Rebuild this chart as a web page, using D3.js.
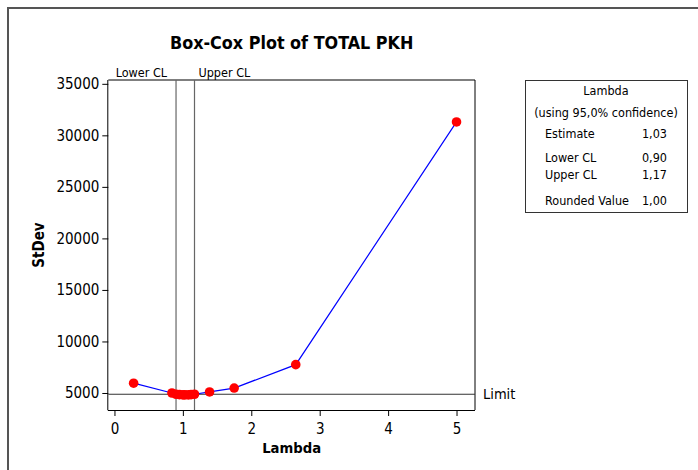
<!DOCTYPE html>
<html><head><meta charset="utf-8">
<script src="https://cdn.jsdelivr.net/npm/d3@7"></script>
<style>body{margin:0;background:#fff} text{font-family:'DejaVu Sans Condensed','DejaVu Sans',sans-serif;fill:#000}</style>
</head><body>
<script>
// ---- data ----
const lambdas = [0.28, 0.84, 0.90, 0.95, 1.00, 1.03, 1.08, 1.12, 1.17, 1.39, 1.75, 2.65, 5.00];
const stdevs  = [5950, 5000, 4880, 4840, 4820, 4815, 4820, 4845, 4880, 5100, 5480, 7750, 31300];
const limitValue = 4880;
const lowerCL = 0.90, upperCL = 1.17;
const xTicks = [0, 1, 2, 3, 4, 5];
const yTicks = [5000, 10000, 15000, 20000, 25000, 30000, 35000];
const legendRows = [["Estimate", "1,03"], ["Lower CL", "0,90"], ["Upper CL", "1,17"], ["Rounded Value", "1,00"]];
const titleText = "Box-Cox Plot of TOTAL PKH";

// ---- layout ----
const W = 698, H = 470;
const L = 108.3, R = 475, T = 80, B = 410;
const svg = d3.select("body").append("svg").attr("width", W).attr("height", H);

// outer frame
svg.append("path").attr("d", `M8,${H} V8 H${W}`).attr("fill", "none").attr("stroke", "#555").attr("stroke-width", 2);

const x = d3.scaleLinear().domain([-0.09, 5.27]).range([L, R]);
const y = d3.scaleLinear().domain([3350, 35370]).range([B, T]);

// title
svg.append("text").attr("x", (L + R) / 2).attr("y", 48.5).attr("text-anchor", "middle")
  .style("font-weight", "bold").style("font-size", "17.8px").text(titleText);

// plot frame: top gray, right black
svg.append("line").attr("x1", L).attr("x2", R).attr("y1", T).attr("y2", T).attr("stroke", "#555").attr("stroke-width", 1.5);
svg.append("line").attr("x1", R).attr("x2", R).attr("y1", T).attr("y2", B).attr("stroke", "#000");

// axes
const xAxis = svg.append("g").attr("transform", `translate(0,${B})`)
  .call(d3.axisBottom(x).tickValues(xTicks).tickSize(6).tickPadding(7).tickSizeOuter(0).tickFormat(d3.format("d")));
const yAxis = svg.append("g").attr("transform", `translate(${L},0)`)
  .call(d3.axisLeft(y).tickValues(yTicks).tickSize(6).tickPadding(3).tickSizeOuter(0).tickFormat(d3.format("d")));
[xAxis, yAxis].forEach(g => {
  g.selectAll("text").style("font-size", "15px").style("font-family", "'DejaVu Sans Condensed','DejaVu Sans',sans-serif").attr("fill", "#000");
  g.selectAll("line").attr("stroke", "#000");
  g.select(".domain").attr("stroke", "#000");
});
// extend domains to full frame
xAxis.select(".domain").attr("d", `M${L - 0.5},0.5H${R}`);
yAxis.select(".domain").attr("d", `M-0.5,${B}V${T}`);

// axis labels
svg.append("text").attr("x", (L + R) / 2).attr("y", 453).attr("text-anchor", "middle")
  .style("font-weight", "bold").style("font-size", "14.7px").text("Lambda");
svg.append("text").attr("transform", `translate(44,${(T + B) / 2}) rotate(-90)`).attr("text-anchor", "middle")
  .style("font-weight", "bold").style("font-size", "15px").text("StDev");

// CL lines
[lowerCL, upperCL].forEach(v => {
  svg.append("line").attr("x1", x(v)).attr("x2", x(v)).attr("y1", T).attr("y2", B).attr("stroke", "#666").attr("stroke-width", 1.2);
});
svg.append("text").attr("x", x(lowerCL) - 9).attr("y", 76.5).attr("text-anchor", "end").style("font-size", "12.5px").text("Lower CL");
svg.append("text").attr("x", x(upperCL) + 4).attr("y", 76.5).attr("text-anchor", "start").style("font-size", "12.5px").text("Upper CL");

// limit line
svg.append("line").attr("x1", L).attr("x2", R).attr("y1", y(limitValue)).attr("y2", y(limitValue)).attr("stroke", "#333").attr("stroke-width", 1.2);
svg.append("text").attr("x", 483).attr("y", y(limitValue) + 4.5).style("font-size", "14.5px").text("Limit");

// curve
const pts = lambdas.map((l, i) => [l, stdevs[i]]);
svg.append("path").datum(pts)
  .attr("d", d3.line().x(d => x(d[0])).y(d => y(d[1])))
  .attr("fill", "none").attr("stroke", "#0000ff").attr("stroke-width", 1.2);
svg.selectAll("circle.pt").data(pts).join("circle").attr("class", "pt")
  .attr("cx", d => x(d[0])).attr("cy", d => y(d[1])).attr("r", 4.8).attr("fill", "#ff0000");

// legend box
const lx = 525, ly = 80, lw = 162, lh = 132;
svg.append("rect").attr("x", lx + 0.5).attr("y", ly + 0.5).attr("width", lw).attr("height", lh)
  .attr("fill", "#fff").attr("stroke", "#333");
const lcx = lx + lw / 2;
svg.append("text").attr("x", lcx).attr("y", 95).attr("text-anchor", "middle").style("font-size", "12.5px").text("Lambda");
svg.append("text").attr("x", lcx).attr("y", 116.5).attr("text-anchor", "middle").style("font-size", "12.5px").text("(using 95,0% confidence)");
const rowY = [137.5, 162, 178.5, 204.5];
legendRows.forEach((r, i) => {
  svg.append("text").attr("x", 545).attr("y", rowY[i]).style("font-size", "12.5px").text(r[0]);
  svg.append("text").attr("x", 667).attr("y", rowY[i]).attr("text-anchor", "end").style("font-size", "12.5px").text(r[1]);
});
</script>
</body></html>
